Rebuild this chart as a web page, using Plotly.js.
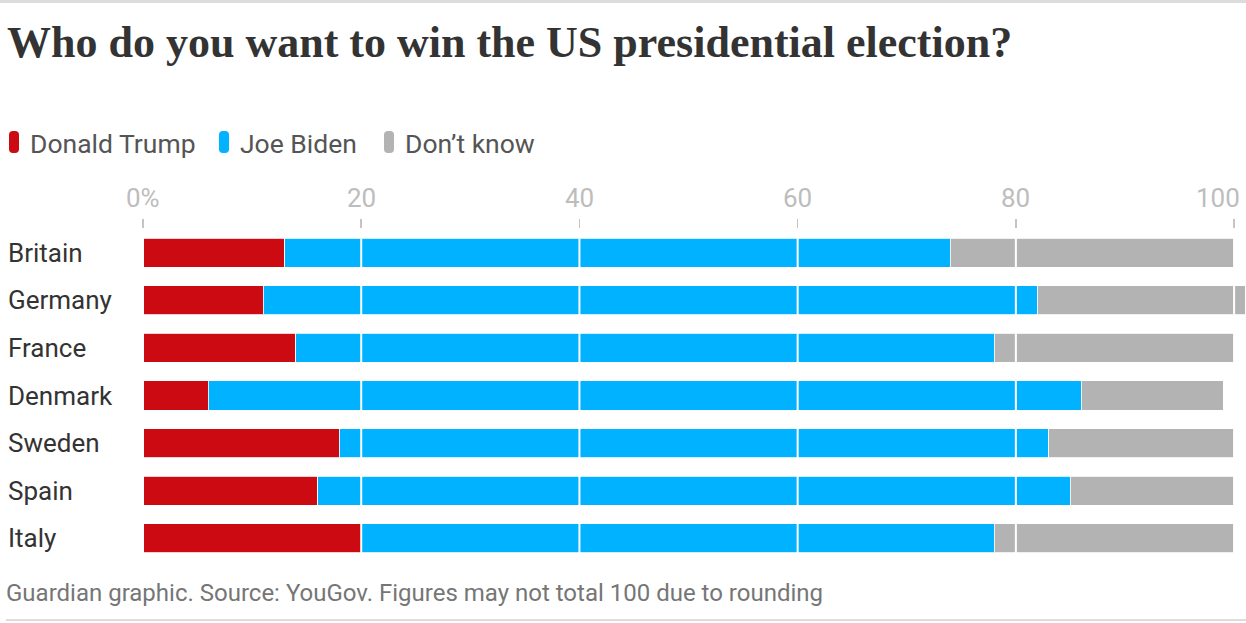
<!DOCTYPE html>
<html>
<head>
<meta charset="utf-8">
<script src="https://cdn.plot.ly/plotly-3.0.1.min.js"></script>
<style>
html,body{margin:0;padding:0;background:#fff;}
#chart{width:1246px;height:623px;}
</style>
</head>
<body>
<div id="chart"></div>
<script>
// ---- data ----
const countries = ["Britain", "Germany", "France", "Denmark", "Sweden", "Spain", "Italy"];
const trump = [13, 11, 14, 6, 18, 16, 20];
const biden = [61, 71, 64, 80, 65, 69, 58];
const dontKnow = [26, 19, 22, 13, 17, 15, 22];
const seriesNames = ["Donald Trump", "Joe Biden", "Don\u2019t know"];
const tickVals = [0, 20, 40, 60, 80, 100];
const tickText = ["0%", "20", "40", "60", "80", "100"];

const colors = ["#cc0a11", "#00b2ff", "#b3b3b3"];
const W = 1246, H = 623;
const M = {l: 143, r: 1, t: 229, b: 61};
const pw = W - M.l - M.r, ph = H - M.t - M.b;
const px2x = p => (p - M.l) / pw;
const px2y = p => (H - M.b - p) / ph;

const font = "Roboto, 'Open Sans', sans-serif";

const traces = [trump, biden, dontKnow].map((vals, i) => ({
  type: "bar",
  orientation: "h",
  name: seriesNames[i],
  y: countries,
  x: vals,
  marker: {color: colors[i], line: {color: "rgba(255,255,255,0.8)", width: 1}},
  hoverinfo: "name+x",
  showlegend: false
}));

const shapes = [];
// white gridlines drawn above bars
tickVals.forEach(v => shapes.push({
  type: "line", xref: "x", yref: "paper", x0: v, x1: v, y0: 0, y1: 1,
  line: {color: "#ffffff", width: 2}, layer: "above"
}));
// top and bottom rules
shapes.push({type: "line", xref: "paper", yref: "paper",
  x0: px2x(0), x1: px2x(W), y0: px2y(1.5), y1: px2y(1.5),
  line: {color: "#dcdcdc", width: 3}, layer: "below"});
shapes.push({type: "line", xref: "paper", yref: "paper",
  x0: px2x(6), x1: px2x(W), y0: px2y(620), y1: px2y(620),
  line: {color: "#dcdcdc", width: 2}, layer: "below"});

// legend pills
function pill(x0, y0, w, h, r) {
  const X = p => px2x(p).toFixed(5), Y = p => px2y(p).toFixed(5);
  const x1 = x0 + w, y1 = y0 + h;
  return `M ${X(x0 + r)},${Y(y0)} L ${X(x1 - r)},${Y(y0)} Q ${X(x1)},${Y(y0)} ${X(x1)},${Y(y0 + r)} ` +
    `L ${X(x1)},${Y(y1 - r)} Q ${X(x1)},${Y(y1)} ${X(x1 - r)},${Y(y1)} L ${X(x0 + r)},${Y(y1)} ` +
    `Q ${X(x0)},${Y(y1)} ${X(x0)},${Y(y1 - r)} L ${X(x0)},${Y(y0 + r)} Q ${X(x0)},${Y(y0)} ${X(x0 + r)},${Y(y0)} Z`;
}
const legendX = [9, 219, 384];
const annotations = [];
seriesNames.forEach((n, i) => {
  shapes.push({type: "path", xref: "paper", yref: "paper", path: pill(legendX[i], 131, 10, 22, 4),
    fillcolor: colors[i], line: {width: 0}});
  annotations.push({xref: "paper", yref: "paper", x: px2x(legendX[i] + 19), y: px2y(143),
    xanchor: "left", yanchor: "middle", showarrow: false, text: n,
    font: {family: font, size: 26.5, color: "#555555"}});
});

// x tick labels
tickVals.forEach((v, i) => annotations.push({
  xref: "x", yref: "paper", x: v, y: 1, yanchor: "bottom", xanchor: "center",
  yshift: 14, xshift: (i === tickVals.length - 1) ? -16 : 0,
  showarrow: false, text: tickText[i],
  font: {family: font, size: 26, color: "#bdbdbd"}
}));

// category labels, left-aligned
countries.forEach(c => annotations.push({
  xref: "paper", yref: "y", x: px2x(6), y: c, xanchor: "left", yanchor: "middle",
  showarrow: false, text: c, font: {family: font, size: 26, color: "#333333"}
}));

// source note
annotations.push({xref: "paper", yref: "paper", x: px2x(4), y: px2y(593),
  xanchor: "left", yanchor: "middle", showarrow: false,
  text: "Guardian graphic. Source: YouGov. Figures may not total 100 due to rounding",
  font: {family: font, size: 24, color: "#767676"}});

const layout = {
  width: W, height: H,
  margin: M,
  paper_bgcolor: "#ffffff", plot_bgcolor: "#ffffff",
  barmode: "stack",
  bargap: 0.39,
  title: {
    text: "Who do you want to win the US presidential election?",
    xref: "container", yref: "container", x: 7 / W, xanchor: "left",
    y: 1 - 42 / H, yanchor: "middle",
    font: {family: "'Liberation Serif', 'DejaVu Serif', serif", size: 44, weight: 700, color: "#333333"}
  },
  xaxis: {
    side: "top", range: [0, 101], tickvals: tickVals, showticklabels: false,
    ticks: "outside", ticklen: 9, tickwidth: 1.5, tickcolor: "#c4c4c4",
    showgrid: false, zeroline: false, showline: false, fixedrange: true
  },
  yaxis: {
    categoryorder: "array", categoryarray: countries, autorange: "reversed",
    showticklabels: false, showgrid: false, zeroline: false, showline: false, ticks: "",
    fixedrange: true
  },
  shapes: shapes,
  annotations: annotations,
  showlegend: false
};

Plotly.newPlot("chart", traces, layout, {displayModeBar: false, staticPlot: true});
</script>
</body>
</html>
